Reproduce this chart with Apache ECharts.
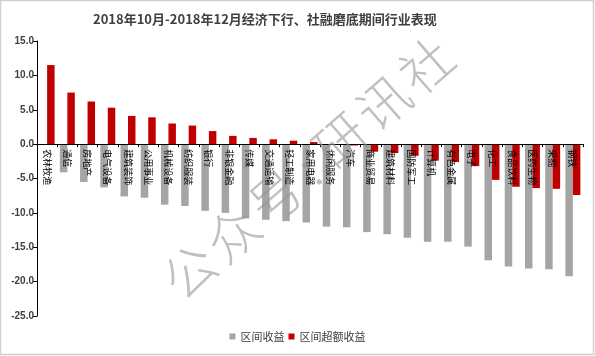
<!DOCTYPE html>
<html><head><meta charset="utf-8">
<script src="https://cdn.jsdelivr.net/npm/echarts@6/dist/echarts.min.js"></script>
<style>html,body{margin:0;padding:0;background:#fff}#c{width:595px;height:356px}</style>
</head><body><div id="c"></div>
<script>
var categories = ['农林牧渔','通信','房地产','电气设备','建筑装饰','公用事业','机械设备','纺织服装','银行','非银金融','传媒','交通运输','轻工制造','家用电器','休闲服务','汽车','商业贸易','建筑材料','国防军工','计算机','有色金属','电子','化工','食品饮料','医药生物','采掘','钢铁'];
var periodReturn = [-0.1,-4.1,-5.5,-6.3,-7.6,-7.8,-8.8,-9.0,-9.7,-10.0,-10.8,-11.0,-11.2,-11.4,-12.0,-12.1,-12.8,-13.1,-13.6,-14.2,-14.2,-14.9,-16.9,-17.8,-18.1,-18.2,-19.2];
var excessReturn = [11.5,7.5,6.2,5.3,4.1,3.9,3.0,2.7,1.9,1.2,0.9,0.7,0.5,0.3,-0.1,-0.2,-1.1,-1.3,-1.7,-2.4,-2.6,-3.2,-5.2,-6.2,-6.4,-6.5,-7.4];
var seriesNames = ['区间收益','区间超额收益'];
var yTicks = {min:-25, max:15, interval:5};

var gridTop = 41, gridBottom = 40, H = 356;
var plotH = H - gridTop - gridBottom;
// move the category axis up to the zero line
var zeroOffset = -plotH * (0 - yTicks.min) / (yTicks.max - yTicks.min);

var chart = echarts.init(document.getElementById('c'), null, {renderer:'canvas'});
var wmChars = '公众号:研讯社'.split('');
var wm = [];
var ang = 41*Math.PI/180, step = 57, cx0 = 168, cy0 = 290;
var pos = 0;
wmChars.forEach(function(ch){
  var w = ch === ':' ? 0.5 : 1;
  pos += w*step/2;
  wm.push({type:'text', x: cx0 + Math.cos(ang)*pos, y: cy0 - Math.sin(ang)*pos, rotation: ang, z: 100,
    style:{text: ch, fontSize: 52, fontFamily:'Noto Sans CJK SC', fontWeight: 300, fill:'rgba(150,150,150,0.6)', align:'center', verticalAlign:'middle'}});
  pos += w*step/2;
});
var option = {
  animation:false,
  title:{text:'2018年10月-2018年12月经济下行、社融磨底期间行业表现', left:88, top:8,
    textStyle:{fontSize:13, fontWeight:'bold', color:'#404040', fontFamily:'Noto Sans CJK SC'}},
  legend:{bottom:9, left:'center', itemWidth:6, itemHeight:6, itemGap:4,
    textStyle:{fontSize:11, color:'#404040', fontFamily:'Noto Sans CJK SC'},
    data:[{name:seriesNames[0], icon:'rect'},{name:seriesNames[1], icon:'rect'}]},
  grid:{left:37, right:12, top:gridTop, bottom:gridBottom, containLabel:false},
  xAxis:{type:'category', data:categories, position:'bottom', offset: zeroOffset, z:50,
    axisLine:{onZero:false, lineStyle:{color:'#000', width:1}},
    axisTick:{show:true, length:3, lineStyle:{color:'#000'}},
    axisLabel:{rotate:-90, margin:5, fontSize:9, color:'#000', fontFamily:'Noto Sans CJK SC', interval:0}},
  yAxis:{type:'value', min:yTicks.min, max:yTicks.max, interval:yTicks.interval,
    splitLine:{show:false},
    axisLine:{show:true, lineStyle:{color:'#000'}},
    axisTick:{show:true, length:4, lineStyle:{color:'#000'}},
    axisLabel:{margin:3, fontSize:10, fontWeight:'bold', color:'#404040', fontFamily:'Liberation Sans',
      formatter:function(v){return v.toFixed(1);}}},
  series:[
    {name:seriesNames[0], type:'bar', data:periodReturn, barWidth:'37%', barGap:'0%', itemStyle:{color:'#A5A5A5'}},
    {name:seriesNames[1], type:'bar', data:excessReturn, barWidth:'37%', barGap:'0%', itemStyle:{color:'#C00000'}}
  ],
  graphic:[{type:'rect', shape:{x:0.5,y:0.5,width:593,height:354}, style:{fill:'none', stroke:'#D0D0D0', lineWidth:1.5}, z:200}].concat(wm)
};
chart.setOption(option);
</script></body></html>
